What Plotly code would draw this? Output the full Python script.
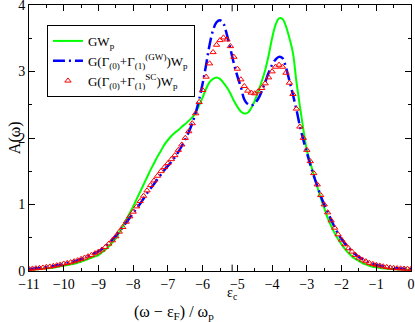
import numpy as np
import plotly.graph_objects as go

# energy grid (omega - eps_F) / omega_p
omega = np.round(np.arange(-11.0, 0.001, 0.1), 2)

gw_p = [
    0.02, 0.02, 0.025, 0.03, 0.035, 0.04, 0.045, 0.05, 0.06, 0.07,
    0.08, 0.09, 0.10, 0.11, 0.125, 0.14, 0.16, 0.18, 0.20, 0.22,
    0.24, 0.28, 0.32, 0.37, 0.43, 0.49, 0.58, 0.67, 0.77, 0.87,
    0.97, 1.08, 1.19, 1.30, 1.41, 1.52, 1.62, 1.72, 1.81, 1.90,
    1.97, 2.03, 2.08, 2.12, 2.17, 2.21, 2.26, 2.31, 2.38, 2.49,
    2.61, 2.74, 2.84, 2.89, 2.91, 2.89, 2.83, 2.76, 2.67, 2.56,
    2.47, 2.40, 2.37, 2.38, 2.45, 2.56, 2.70, 2.85, 3.02, 3.24,
    3.50, 3.70, 3.80, 3.79, 3.68, 3.50, 3.28, 2.85, 2.48, 2.13,
    1.82, 1.63, 1.45, 1.27, 1.10, 0.95, 0.80, 0.68, 0.57, 0.48,
    0.40, 0.33, 0.27, 0.22, 0.18, 0.15, 0.12, 0.10, 0.08, 0.065,
    0.055, 0.047, 0.04, 0.035, 0.03, 0.028, 0.025, 0.023, 0.021, 0.02,
    0.02,
]

gamma_gw = [
    0.03, 0.035, 0.04, 0.045, 0.05, 0.06, 0.065, 0.075, 0.085, 0.095,
    0.11, 0.12, 0.13, 0.145, 0.16, 0.18, 0.20, 0.22, 0.245, 0.27,
    0.295, 0.33, 0.37, 0.42, 0.47, 0.53, 0.59, 0.66, 0.73, 0.80,
    0.87, 0.94, 1.01, 1.09, 1.17, 1.24, 1.31, 1.38, 1.45, 1.52,
    1.58, 1.64, 1.71, 1.79, 1.88, 1.98, 2.09, 2.22, 2.38, 2.58,
    2.82, 3.10, 3.40, 3.62, 3.74, 3.77, 3.72, 3.55, 3.34, 3.12,
    2.93, 2.77, 2.58, 2.51, 2.49, 2.52, 2.59, 2.70, 2.84, 2.98,
    3.10, 3.18, 3.22, 3.20, 3.06, 2.86, 2.65, 2.43, 2.18, 1.97,
    1.78, 1.60, 1.43, 1.28, 1.13, 1.00, 0.89, 0.77, 0.66, 0.56,
    0.48, 0.41, 0.35, 0.30, 0.25, 0.21, 0.18, 0.15, 0.125, 0.11,
    0.095, 0.083, 0.07, 0.06, 0.052, 0.046, 0.041, 0.038, 0.035, 0.033,
    0.031,
]

gamma_sc = [
    0.03, 0.035, 0.04, 0.045, 0.05, 0.06, 0.065, 0.075, 0.085, 0.095,
    0.11, 0.12, 0.13, 0.145, 0.16, 0.18, 0.20, 0.22, 0.24, 0.265,
    0.29, 0.32, 0.36, 0.41, 0.46, 0.52, 0.59, 0.66, 0.74, 0.82,
    0.89, 0.97, 1.05, 1.13, 1.21, 1.29, 1.36, 1.43, 1.50, 1.56,
    1.62, 1.68, 1.74, 1.82, 1.90, 2.00, 2.10, 2.22, 2.37, 2.54,
    2.72, 2.92, 3.12, 3.29, 3.40, 3.47, 3.51, 3.48, 3.38, 3.22,
    3.04, 2.88, 2.78, 2.71, 2.68, 2.67, 2.70, 2.75, 2.82, 2.91,
    3.00, 3.07, 3.10, 3.07, 2.98, 2.83, 2.66, 2.44, 2.17, 2.00,
    1.82, 1.65, 1.47, 1.30, 1.14, 1.00, 0.88, 0.76, 0.65, 0.55,
    0.47, 0.40, 0.34, 0.29, 0.24, 0.20, 0.17, 0.145, 0.12, 0.105,
    0.09, 0.08, 0.068, 0.058, 0.05, 0.045, 0.04, 0.037, 0.034, 0.032,
    0.03,
]

eps_c = -5.15
x_ticks = list(range(-11, 1))
y_ticks = [0, 1, 2, 3, 4]

FONT = "Liberation Serif"


def main():
    fig = go.Figure()
    fig.add_trace(go.Scatter(x=omega, y=gw_p, name="GW<sub>p</sub>", mode="lines",
                             line=dict(color="#00ff00", width=2, shape="spline")))
    fig.add_trace(go.Scatter(x=omega, y=gamma_gw,
                             name="G(Γ<sub>(0)</sub>+Γ<sub>(1)</sub><sup>(GW)</sup>)W<sub>p</sub>",
                             mode="lines",
                             line=dict(color="#0000ff", width=2.5, dash="12px,4px,2px,4px",
                                       shape="spline")))
    fig.add_trace(go.Scatter(x=omega, y=gamma_sc,
                             name="G(Γ<sub>(0)</sub>+Γ<sub>(1)</sub><sup>SC</sup>)W<sub>p</sub>",
                             mode="markers",
                             marker=dict(symbol="triangle-up-open", color="#ff0000", size=5.5,
                                         line=dict(width=1))))

    # eps_c tick marks on bottom and top axes
    for y0, y1 in [(0, 0.024), (1, 0.976)]:
        fig.add_shape(type="line", xref="x", yref="paper", x0=eps_c, x1=eps_c,
                      y0=y0, y1=y1, line=dict(color="black", width=1))

    fig.add_annotation(x=eps_c, y=-0.125, xref="x", yref="paper", text="ε<sub>c</sub>",
                       showarrow=False, font=dict(size=14, family=FONT, color="black"))
    fig.add_annotation(x=0.38, y=-0.2, xref="paper", yref="paper",
                       text="(ω − ε<sub>F</sub>) / ω<sub>p</sub>",
                       showarrow=False, font=dict(size=16, family=FONT, color="black"))
    fig.add_annotation(x=-0.065, y=0.5, xref="paper", yref="paper", text="A(ω)",
                       textangle=-90, showarrow=False,
                       font=dict(size=16, family=FONT, color="black"))

    axis_common = dict(showline=True, linecolor="black", linewidth=1, mirror="ticks",
                       ticks="inside", ticklen=6, tickcolor="black", showgrid=False,
                       zeroline=False, automargin=False, ticklabeloverflow="allow",
                       tickfont=dict(size=14, family=FONT, color="black"))
    fig.update_xaxes(range=[-11, 0], tickvals=x_ticks,
                     minor=dict(dtick=0.5, ticks="inside", ticklen=3, tickcolor="black"),
                     **axis_common)
    fig.update_yaxes(range=[0, 4], tickvals=y_ticks,
                     minor=dict(dtick=0.5, ticks="inside", ticklen=3, tickcolor="black"),
                     **axis_common)

    fig.update_layout(
        width=415, height=322,
        margin=dict(l=29, r=4, t=5, b=51),
        plot_bgcolor="white", paper_bgcolor="white",
        font=dict(family=FONT, color="black"),
        legend=dict(x=0.047, y=0.925, xanchor="left", yanchor="top",
                    bgcolor="white", bordercolor="black", borderwidth=1,
                    font=dict(size=13, family=FONT, color="black"),
                    tracegroupgap=0),
        showlegend=True,
    )
    fig.write_html("out.html", config={"displayModeBar": False},
                   post_script="document.body.style.margin='0';")


if __name__ == '__main__':
    main()
